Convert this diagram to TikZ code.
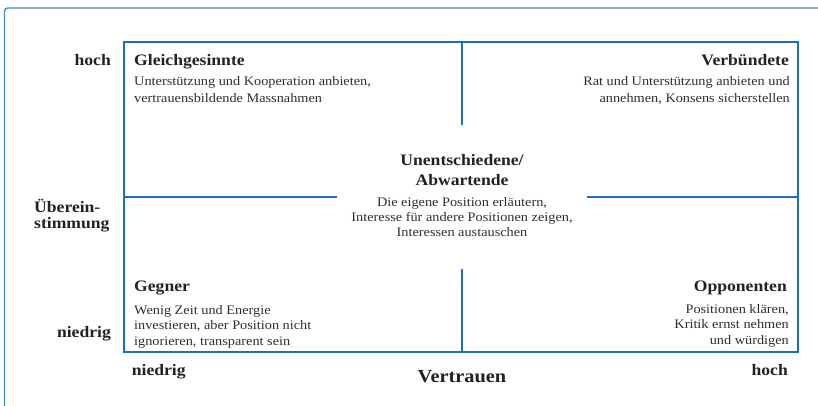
\documentclass[tikz,border=0pt]{standalone}
\usepackage{fontspec}
\setmainfont[FakeStretch=1.1]{Liberation Serif}
\definecolor{frameblue}{HTML}{1C6EBE}
\definecolor{outerblue}{HTML}{3A8DD2}
\definecolor{txt}{HTML}{2E2E2E}
\definecolor{txtb}{HTML}{222222}
\begin{document}
\begin{tikzpicture}[x=1pt,y=-1pt,
  lbl/.style={inner sep=0pt,text=txtb,font=\fontsize{16}{16}\selectfont\bfseries},
  ttl/.style={inner sep=0pt,text=txtb,font=\fontsize{16}{19}\selectfont\bfseries},
  bdy/.style={inner sep=0pt,text=txt,font=\fontsize{13}{16.3}\selectfont},
  grid/.style={draw=frameblue,line width=1.5pt}]
\useasboundingbox (0,0) rectangle (818,406);
% outer frame (only top and left visible)
\draw[outerblue,line width=1.4pt,rounded corners=3pt] (4.5,410) -- (4.5,8) -- (822,8);
% inner box
\coordinate (tl) at (124,42);
\coordinate (br) at (798,352);
\draw[grid] (tl) rectangle (br);
\draw[grid] (462,42) -- (462,125);
\draw[grid] (462,269) -- (462,352);
\draw[grid] (124,197) -- (337,197);
\draw[grid] (587,197) -- (798,197);
% quadrant texts (multi-line nodes: base = baseline of last line)
\node[ttl,anchor=base west] (gl) at (134,65.7) {Gleichgesinnte};
\node[bdy,anchor=base west,align=left] (glb) at (134,102.3) {Unterstützung und Kooperation anbieten,\\vertrauensbildende Massnahmen};
\node[ttl,anchor=base east] (vb) at (789,65.7) {Verbündete};
\node[bdy,anchor=base east,align=right] (vbb) at (790,102.3) {Rat und Unterstützung anbieten und\\annehmen, Konsens sicherstellen};
\node[ttl,anchor=base,align=center] (un) at (462,185) {Unentschiedene/\\Abwartende};
\node[bdy,anchor=base,align=center,font=\fontsize{13}{14.6}\selectfont] (unb) at (462,236) {Die eigene Position erläutern,\\Interesse für andere Positionen zeigen,\\Interessen austauschen};
\node[ttl,anchor=base west] (ge) at (134,291.7) {Gegner};
\node[bdy,anchor=base west,align=left,font=\fontsize{13}{15.5}\selectfont] (geb) at (134,345) {Wenig Zeit und Energie\\investieren, aber Position nicht\\ignorieren, transparent sein};
\node[ttl,anchor=base east] (op) at (787,291.7) {Opponenten};
\node[bdy,anchor=base east,align=right,font=\fontsize{13}{15.3}\selectfont] (opb) at (789,344) {Positionen klären,\\Kritik ernst nehmen\\und würdigen};
% axis labels
\node[lbl,anchor=base east] (yhi) at (111,65.5) {hoch};
\node[lbl,anchor=base west,align=left] (yax) at (34,228) {Überein-\\stimmung};
\node[lbl,anchor=base east] (ylo) at (111,337) {niedrig};
\node[lbl,anchor=base west] (xlo) at (131.7,375) {niedrig};
\node[lbl,anchor=base,font=\fontsize{18.5}{18.5}\selectfont\bfseries] (xax) at (462,382.3) {Vertrauen};
\node[lbl,anchor=base east] (xhi) at (788,375) {hoch};
\end{tikzpicture}
\end{document}
